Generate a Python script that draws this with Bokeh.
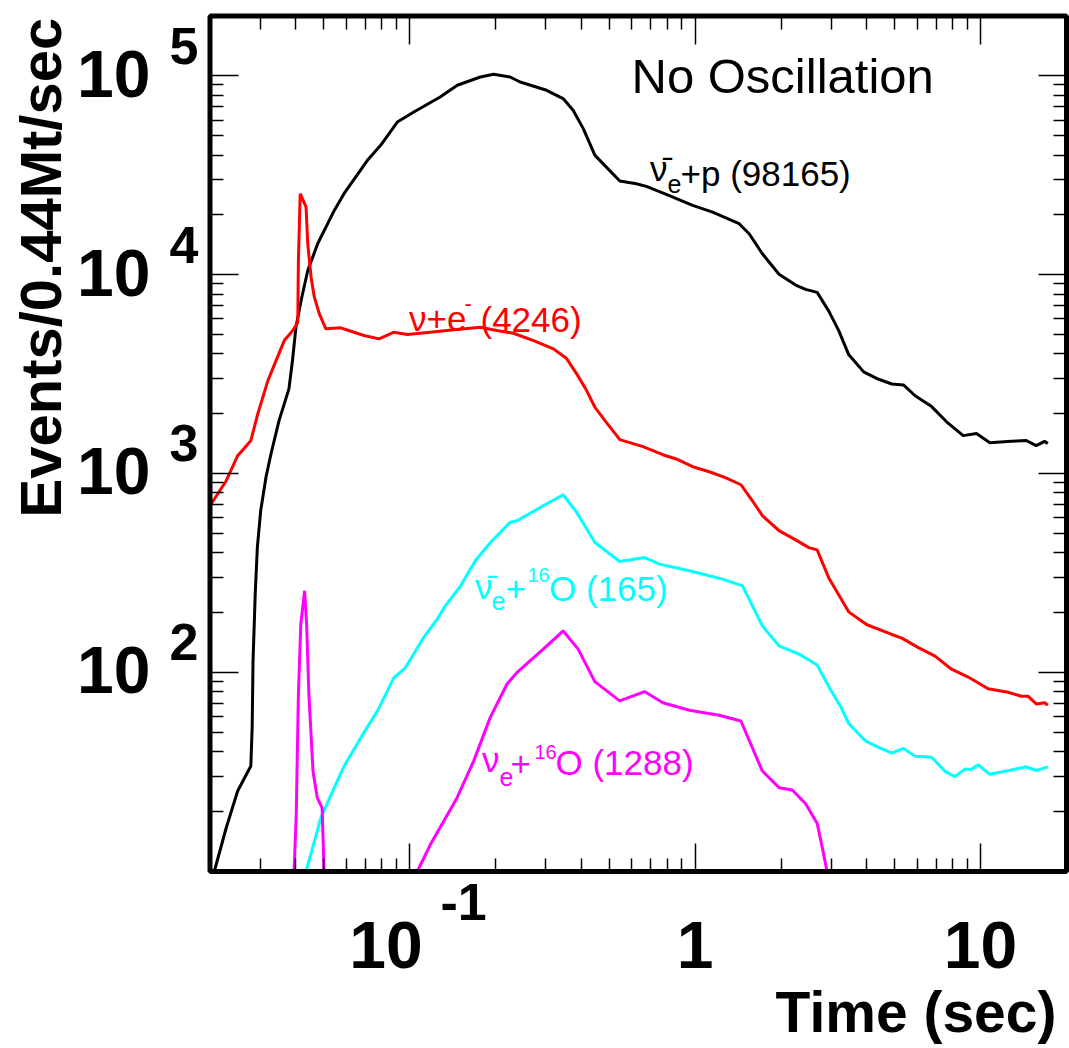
import math
from bokeh.plotting import figure
from bokeh.models import Range1d, FixedTicker, LogAxis, Label, BoxAnnotation
from bokeh.embed import file_html
from bokeh.resources import INLINE

# ---------------- data ----------------
# anti-nu_e + p  (98165)
nuebar_p_t = [0.0207, 0.0228, 0.0250, 0.0278, 0.0281, 0.0283, 0.0288, 0.0293, 0.0301, 0.0314,
              0.0327, 0.0349, 0.0378, 0.0389, 0.0400, 0.0417, 0.0440, 0.0477, 0.0545, 0.0590,
              0.0712, 0.0792, 0.0906, 0.1035, 0.128, 0.147, 0.177, 0.197, 0.225, 0.244,
              0.302, 0.345, 0.374, 0.406, 0.446, 0.489, 0.545, 0.623, 0.675, 0.793,
              0.981, 1.152, 1.427, 1.547, 1.721, 1.968, 2.251, 2.439, 2.677, 2.941,
              3.186, 3.452, 3.895, 4.394, 4.889, 5.370, 5.899, 6.742, 7.603, 8.697,
              9.676, 10.78, 12.82, 14.46, 15.67, 16.76, 17.21]
nuebar_p_rate = [10, 16.6, 25.4, 33.9, 52.9, 114.5, 248, 426, 651, 958,
                 1256, 1848, 2669, 3705, 5448, 7426, 10510, 14370, 21070, 25660,
                 37610, 44740, 58610, 65810, 78310, 89700, 98740, 101900, 98740, 93170,
                 84620, 76880, 67130, 54300, 39850, 34790, 29590, 28710, 27830, 25370,
                 22320, 20650, 18060, 16080, 12760, 10070, 8876, 8444, 8154, 6568,
                 5238, 3972, 3250, 2983, 2824, 2795, 2466, 2174, 1823, 1554,
                 1592, 1432, 1454, 1469, 1383, 1454, 1419]

# nu + e-  (4246)
nu_e_t = [0.0200, 0.0228, 0.0250, 0.0278, 0.0294, 0.0319, 0.0364, 0.0390, 0.0406, 0.0408,
          0.0414, 0.0434, 0.0440, 0.0452, 0.0464, 0.0483, 0.0509, 0.0574, 0.0623, 0.0693,
          0.0782, 0.0882, 0.0982, 0.118, 0.143, 0.177, 0.202, 0.231, 0.272, 0.319,
          0.355, 0.385, 0.417, 0.446, 0.489, 0.545, 0.657, 0.771, 0.859, 0.981,
          1.122, 1.283, 1.447, 1.588, 1.721, 1.968, 2.251, 2.504, 2.677, 2.941,
          3.230, 3.452, 3.999, 4.889, 5.298, 6.057, 6.928, 7.915, 9.050, 10.63,
          12.48, 13.89, 14.66, 15.67, 16.76, 17.21]
nu_e_rate = [690, 922, 1232, 1466, 1998, 2938, 4670, 5245, 5773, 11800,
             25570, 21890, 14320, 9725, 7716, 6364, 5349, 5411, 5202, 4950,
             4764, 5142, 5008, 5142, 5288, 5448, 5245, 5083, 4670, 4242,
             3792, 3176, 2617, 2157, 1813, 1483, 1368, 1246, 1186, 1084,
             1023, 952, 880, 731, 615, 517, 465, 425, 414, 299,
             238, 202, 174, 155.5, 149, 133.6, 121, 104, 95, 82.9,
             79.7, 76.1, 76.1, 69.6, 70.6, 68.5]

# anti-nu_e + 16O  (165)
nuebar_O_t = [0.0434, 0.0489, 0.0545, 0.0590, 0.0675, 0.0772, 0.0882, 0.0968, 0.112, 0.125,
              0.132, 0.151, 0.170, 0.192, 0.225, 0.238, 0.294, 0.345, 0.385, 0.446,
              0.545, 0.666, 0.751, 0.955, 1.249, 1.466, 1.721, 1.968, 2.311, 2.677,
              2.941, 3.230, 3.452, 3.948, 4.394, 4.889, 5.370, 5.899, 6.742, 7.506,
              8.134, 8.813, 9.295, 9.809, 10.78, 12.82, 14.46, 15.67, 17.21]
nuebar_O_rate = [10, 18.6, 26.4, 33.9, 47.1, 64.2, 94.4, 106, 150, 185.7,
                 212, 273, 365, 451, 569, 580, 690, 784, 639, 451,
                 362, 379, 351, 325, 295, 273, 171.8, 136.3, 124, 109.3,
                 85.0, 67.8, 55.5, 45.4, 42.1, 39.4, 41.6, 38.0, 37.5, 31.9,
                 30.0, 32.7, 32.7, 34.4, 30.8, 32.4, 33.6, 32.2, 33.6]

# nu_e + 16O  (1288): early spike, then the main bump
nue_O_spike_t = [0.0394, 0.0401, 0.0408, 0.0416, 0.0429, 0.0436, 0.0444, 0.0459, 0.0475, 0.0494, 0.0502]
nue_O_spike_rate = [10, 19.4, 77.9, 175, 258, 175, 77.9, 32.0, 23.5, 20.9, 10]
nue_O_t = [0.1064, 0.1184, 0.1317, 0.1467, 0.1677, 0.1916, 0.2192, 0.2376, 0.2940, 0.3453,
           0.3895, 0.4456, 0.5445, 0.6656, 0.7709, 0.9553, 1.215, 1.447, 1.721, 1.968,
           2.190, 2.439, 2.677, 2.787, 2.900]
nue_O_rate = [10, 13.7, 17.9, 23.5, 35.9, 59.4, 87.4, 100, 131.2, 162,
              131.2, 90.1, 72.1, 80.3, 70.6, 64.7, 61.0, 57.1, 32.0, 26.4,
              25.7, 21.9, 17.5, 13.3, 10]

# axes (the drawn box spans these ranges)
x_lo, x_hi = 0.02, 20
y_lo, y_hi = 10, 2e5
x_major = [0.1, 1, 10]
x_minor = [0.02, 0.03, 0.04, 0.05, 0.06, 0.07, 0.08, 0.09,
           0.2, 0.3, 0.4, 0.5, 0.6, 0.7, 0.8, 0.9,
           2, 3, 4, 5, 6, 7, 8, 9, 20]
y_major = [10, 100, 1000, 10000, 100000]
y_minor = [20, 30, 40, 50, 60, 70, 80, 90,
           200, 300, 400, 500, 600, 700, 800, 900,
           2000, 3000, 4000, 5000, 6000, 7000, 8000, 9000,
           20000, 30000, 40000, 50000, 60000, 70000, 80000, 90000, 200000]
y_label_ticks = [100, 1000, 10000, 100000]
y_label_base = ["10", "10", "10", "10"]
y_label_exp = ["2", "3", "4", "5"]
x_label_ticks = [0.1, 1, 10]
x_label_base = ["10", "1", "10"]
x_label_exp = ["-1", "", ""]

# ---------------- layout geometry (pixels on the 1069x1048 canvas) ----------------
W, H = 1069, 1048
BOX_L, BOX_T = 209.5, 15.5          # pixel of x_lo / y_hi
XDEC, YDEC = 285.5, 198.91          # pixels per decade
BASE_SHIFT = 0.39                   # anchor-to-baseline correction (fraction of font size)


def rx(px):
    return 10 ** (math.log10(x_lo) + (px - BOX_L) / XDEC)


def ry(py):
    return 10 ** (math.log10(y_hi) - (py - BOX_T) / YDEC)


def xpx(v):
    return BOX_L + (math.log10(v) - math.log10(x_lo)) * XDEC


def ypx(v):
    return BOX_T + (math.log10(y_hi) - math.log10(v)) * YDEC


FONT = "Liberation Sans"
p = figure(width=W, height=H, x_axis_type="log", y_axis_type="log",
           x_range=Range1d(rx(0), rx(W)), y_range=Range1d(ry(H), ry(0)),
           output_backend="svg", toolbar_location=None, title=None, min_border=0)
p.background_fill_color = "white"
p.border_fill_color = "white"
p.outline_line_color = None
p.xgrid.grid_line_color = None
p.ygrid.grid_line_color = None


def style_axis(ax, major, minor, loc, bounds):
    ax.ticker = FixedTicker(ticks=major, minor_ticks=minor)
    ax.fixed_location = loc
    ax.bounds = bounds
    ax.axis_line_color = None
    ax.major_tick_in = 28
    ax.major_tick_out = 0
    ax.minor_tick_in = 13
    ax.minor_tick_out = 0
    ax.major_tick_line_width = 1.5
    ax.minor_tick_line_width = 1.5
    ax.major_tick_line_color = "black"
    ax.minor_tick_line_color = "black"
    ax.major_label_text_font_size = "1px"
    ax.major_label_text_color = None
    ax.major_label_standoff = 0


style_axis(p.xaxis[0], x_major, x_minor, y_lo, (x_lo, x_hi))
style_axis(p.yaxis[0], y_major, y_minor, x_lo, (y_lo, y_hi))
top_ax = LogAxis()
right_ax = LogAxis()
style_axis(top_ax, x_major, x_minor, y_hi, (x_lo, x_hi))
style_axis(right_ax, y_major, y_minor, x_hi, (y_lo, y_hi))
p.add_layout(top_ax, "above")
p.add_layout(right_ax, "right")

# curves
LW = 3
p.line(nuebar_p_t, nuebar_p_rate, line_color="black", line_width=LW)
p.line(nu_e_t, nu_e_rate, line_color="#ff0000", line_width=LW)
p.line(nuebar_O_t, nuebar_O_rate, line_color="#00ffff", line_width=LW)
p.line(nue_O_spike_t + [float("nan")] + nue_O_t,
       nue_O_spike_rate + [float("nan")] + nue_O_rate,
       line_color="#ff00ff", line_width=LW)

# thick frame around the axes box
p.add_layout(BoxAnnotation(left=x_lo, right=x_hi, bottom=y_lo, top=y_hi,
                           fill_color=None, fill_alpha=0,
                           line_color="black", line_width=5, line_alpha=1.0))


def lab(text, px, py, size, color="black", bold=False, align="left", angle=0.0):
    # (px, py) is the wanted start/centre/end of the text baseline, in canvas pixels
    d = BASE_SHIFT * size
    ax_ = px - d * math.sin(angle)
    ay_ = py - d * math.cos(angle)
    p.add_layout(Label(x=rx(ax_), y=ry(ay_), text=text, text_font=FONT,
                       text_font_size=f"{size}px",
                       text_font_style="bold" if bold else "normal",
                       text_color=color, text_align=align,
                       text_baseline="alphabetic", angle=angle))


# tick labels (ROOT style 10^n)
for v, b, e in zip(y_label_ticks, y_label_base, y_label_exp):
    py = ypx(v)
    lab(b, 150, py + 23.5, 66, bold=True, align="right")
    lab(e, 198, py - 10, 52, bold=True, align="right")

for v, b, e in zip(x_label_ticks, x_label_base, x_label_exp):
    px = xpx(v)
    if e:
        lab(b, px - 23.5, 970, 66, bold=True, align="center")
        lab(e, px + 31, 922, 52, bold=True, align="left")
    else:
        lab(b, px, 970, 66, bold=True, align="center")

# axis titles
lab("Events/0.44Mt/sec", 63, 517, 58, bold=True, angle=math.pi / 2)
lab("Time (sec)", 1056, 1034, 57, bold=True, align="right")

# plot title text
lab("No Oscillation", 631, 94.5, 49)

# curve labels
lab("\u03bd\u0304", 649.5, 182, 35)
lab("e", 667, 193, 25)
lab("+p (98165)", 680, 187, 35)

red = "#ff0000"
lab("\u03bd+e", 408.5, 332, 35, color=red)
lab("-", 464, 312, 22, color=red)
lab("(4246)", 480, 333, 35, color=red)

cyan = "#00ffff"
lab("\u03bd\u0304", 474.5, 600, 35, color=cyan)
lab("e", 491, 610, 25, color=cyan)
lab("+", 505, 602, 35, color=cyan)
lab("16", 527, 582, 20, color=cyan)
lab("O (165)", 548.5, 602, 35, color=cyan)

mag = "#ff00ff"
lab("\u03bd", 481.5, 773, 35, color=mag)
lab("e", 499, 786.5, 25, color=mag)
lab("+", 510, 777, 35, color=mag)
lab("16", 534, 759, 20, color=mag)
lab("O (1288)", 555, 776, 35, color=mag)

open("out.html", "w").write(file_html(p, INLINE))
